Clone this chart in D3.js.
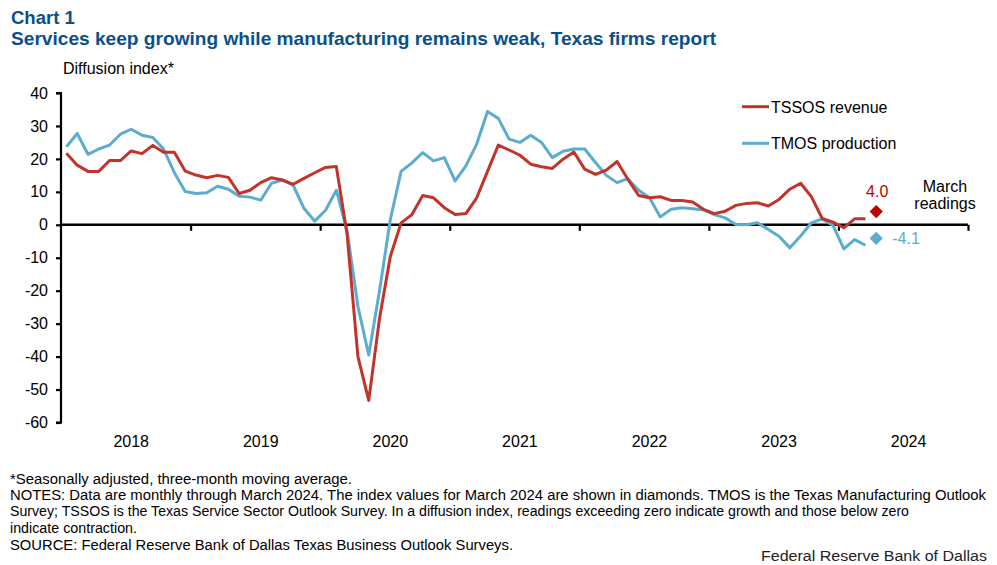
<!DOCTYPE html>
<html>
<head>
<meta charset="utf-8">
<script src="https://cdn.jsdelivr.net/npm/d3@7"></script>
<style>
  html, body { margin: 0; padding: 0; background: #fff; }
  svg { display: block; font-family: "Liberation Sans", Arial, sans-serif; }
</style>
</head>
<body>
<svg id="chart" width="997" height="565"></svg>
<script>
// ---- Data (monthly, three-month moving average) ----
const tssosRevenue = [
  21.7, 18.1, 16.2, 16.2, 19.5, 19.5, 22.4, 21.6, 24.1, 22.0, 22.0, 16.3,
  15.1, 14.3, 15.0, 14.4, 9.5, 10.5, 12.8, 14.3, 13.6, 12.3, 14.1, 15.8,
  17.4, 17.7, -3.0, -40.0, -53.3, -28.4, -9.6, 0.6, 3.1, 8.9, 8.2, 5.2,
  3.1, 3.4, 8.2, 16.2, 24.2, 22.7, 21.1, 18.4, 17.6, 17.1, 19.9, 22.1,
  16.9, 15.3, 16.6, 19.2, 13.8, 8.9, 8.2, 8.5, 7.4, 7.4, 6.9, 4.7,
  3.4, 4.1, 5.9, 6.5, 6.7, 5.7, 7.7, 10.8, 12.6, 8.5, 1.9, 0.8,
  -0.9, 1.8, 1.8
];
const tmosProduction = [
  23.7, 27.7, 21.4, 23.0, 24.2, 27.5, 29.0, 27.2, 26.5, 23.0, 15.8, 10.1,
  9.5, 9.7, 11.7, 10.8, 8.7, 8.4, 7.5, 12.6, 13.6, 12.0, 5.0, 1.1,
  4.4, 10.5, -1.9, -24.8, -39.5, -20.0, 1.6, 16.2, 18.8, 21.9, 19.4, 20.4,
  13.3, 17.9, 24.5, 34.4, 32.3, 26.0, 25.0, 27.2, 25.0, 20.4, 22.3, 23.0,
  23.0, 18.9, 15.0, 12.8, 14.0, 10.5, 8.2, 2.4, 4.7, 5.2, 4.9, 4.5,
  3.1, 2.1, 0.1, 0.0, 0.6, -1.4, -3.5, -7.0, -3.4, 0.6, 1.8, -0.2,
  -7.3, -4.5, -6.2
];
const marchReadings = [
  { series: "TSSOS revenue", value: 4.0, label: "4.0" },
  { series: "TMOS production", value: -4.1, label: "-4.1" }
];
const yearLabels = ["2018", "2019", "2020", "2021", "2022", "2023", "2024"];
const yTicks = [40, 30, 20, 10, 0, -10, -20, -30, -40, -50, -60];
const seriesNames = ["TSSOS revenue", "TMOS production"];
const footnotes = [
  "*Seasonally adjusted, three-month moving average.",
  "NOTES: Data are monthly through March 2024. The index values for March 2024 are shown in diamonds. TMOS is the Texas Manufacturing  Outlook",
  "Survey; TSSOS is the Texas Service Sector Outlook Survey. In a diffusion index, readings exceeding zero indicate growth and those below zero",
  "indicate contraction.",
  "SOURCE: Federal Reserve Bank of Dallas Texas Business Outlook Surveys."
];

// ---- Styles ----
const RED = "#c1332b";
const RED_DIAMOND = "#c00000";
const BLUE = "#5caccf";
const TITLE_BLUE = "#0b4f8a";

const svg = d3.select("#chart");

// Scales: 84 monthly categories (7 years), points at category centers
const nMonths = yearLabels.length * 12;
const x = d3.scaleLinear().domain([0, nMonths]).range([61, 968]);
const y = d3.scaleLinear().domain([-60, 40]).range([422.5, 93]);
const xc = i => x(i + 0.5);

// ---- Titles ----
svg.append("text").attr("x", 11).attr("y", 24)
  .attr("fill", TITLE_BLUE).attr("font-weight", "bold").attr("font-size", 18.5)
  .text("Chart 1");
svg.append("text").attr("x", 11).attr("y", 45)
  .attr("fill", TITLE_BLUE).attr("font-weight", "bold").attr("font-size", 18.5)
  .attr("textLength", 705).attr("lengthAdjust", "spacingAndGlyphs")
  .text("Services keep growing while manufacturing remains weak, Texas firms report");
svg.append("text").attr("x", 63).attr("y", 74)
  .attr("fill", "#000").attr("font-size", 16)
  .text("Diffusion index*");

// ---- Y axis ----
const yAxis = d3.axisLeft(y).tickValues(yTicks).tickSize(5).tickPadding(8)
  .tickFormat(d => String(d));
const gy = svg.append("g").attr("transform", `translate(${x(0)},0)`).call(yAxis);
gy.select(".domain").attr("stroke", "#000").attr("stroke-width", 2.2)
  .attr("d", `M-5,${y(40)}H0V${y(-60)}H-5`);
gy.selectAll(".tick line").attr("stroke", "#000").attr("stroke-width", 2.2);
gy.selectAll(".tick text").attr("font-size", 16).attr("fill", "#000")
  .attr("font-family", "Liberation Sans, Arial, sans-serif");

// ---- X axis at zero ----
const yearTicks = d3.range(1, yearLabels.length + 1).map(k => k * 12);
const xAxis = d3.axisBottom(x).tickValues(yearTicks).tickSize(6).tickFormat("");
const gx = svg.append("g").attr("transform", `translate(0,${y(0)})`).call(xAxis);
gx.select(".domain").attr("stroke", "#000").attr("stroke-width", 2.5)
  .attr("d", `M${x(0)},0H${x(nMonths)}`);
gx.selectAll(".tick line").attr("stroke", "#000").attr("stroke-width", 2.2);

// Year labels at mid-year
svg.append("g").selectAll("text").data(yearLabels).join("text")
  .attr("x", (d, k) => xc(k * 12 + 6))
  .attr("y", 447)
  .attr("text-anchor", "middle")
  .attr("font-size", 16).attr("fill", "#000")
  .text(d => d);

// ---- Lines ----
const line = d3.line().x((d, i) => xc(i)).y(d => y(d));
svg.append("path").datum(tmosProduction)
  .attr("fill", "none").attr("stroke", BLUE).attr("stroke-width", 3)
  .attr("stroke-linejoin", "round").attr("d", line);
svg.append("path").datum(tssosRevenue)
  .attr("fill", "none").attr("stroke", RED).attr("stroke-width", 3)
  .attr("stroke-linejoin", "round").attr("d", line);

// ---- March diamonds (placed one slot after the lines) ----
const diamondIdx = tssosRevenue.length;
const diamond = d3.symbol().type(d3.symbolSquare).size(88);
const diamondColors = [RED_DIAMOND, BLUE];
svg.append("g").selectAll("path").data(marchReadings).join("path")
  .attr("d", diamond)
  .attr("transform", d => `translate(${xc(diamondIdx)},${y(d.value)}) rotate(45)`)
  .attr("fill", (d, i) => diamondColors[i]);

// Labels for March readings
svg.append("text").attr("x", xc(diamondIdx) + 1).attr("y", y(marchReadings[0].value) - 15)
  .attr("text-anchor", "middle").attr("font-size", 16).attr("fill", RED_DIAMOND)
  .text(marchReadings[0].label);
svg.append("text").attr("x", xc(diamondIdx) + 16).attr("y", y(marchReadings[1].value) + 6)
  .attr("text-anchor", "start").attr("font-size", 16).attr("fill", BLUE)
  .text(marchReadings[1].label);
svg.append("text").attr("x", 945).attr("y", 191.5)
  .attr("text-anchor", "middle").attr("font-size", 16).attr("fill", "#000")
  .text("March");
svg.append("text").attr("x", 945).attr("y", 208.5)
  .attr("text-anchor", "middle").attr("font-size", 16).attr("fill", "#000")
  .text("readings");

// ---- Legend ----
const legendColors = [RED, BLUE];
const lg = svg.append("g").selectAll("g").data(seriesNames).join("g")
  .attr("transform", (d, i) => `translate(742,${106.7 + i * 36.6})`);
lg.append("line").attr("x1", 0).attr("x2", 27).attr("y1", 0).attr("y2", 0)
  .attr("stroke", (d, i) => legendColors[i]).attr("stroke-width", 3);
lg.append("text").attr("x", 29).attr("y", 5.8)
  .attr("font-size", 16).attr("fill", "#000").text(d => d);

// ---- Footnotes ----
const footLens = [342, 976, 899, 127, 503];
const footY = [484, 500, 516, 533, 550];
svg.append("g").selectAll("text").data(footnotes).join("text")
  .attr("x", 10).attr("y", (d, i) => footY[i])
  .attr("font-family", "'Liberation Sans Narrow', 'Arial Narrow', 'Liberation Sans', sans-serif")
  .attr("font-size", 14).attr("fill", "#000")
  .attr("textLength", (d, i) => footLens[i]).attr("lengthAdjust", "spacingAndGlyphs")
  .text(d => d);
svg.append("text").attr("x", 987).attr("y", 561)
  .attr("text-anchor", "end").attr("font-size", 14).attr("fill", "#222")
  .attr("textLength", 226).attr("lengthAdjust", "spacingAndGlyphs")
  .text("Federal Reserve Bank of Dallas");
</script>
</body>
</html>
